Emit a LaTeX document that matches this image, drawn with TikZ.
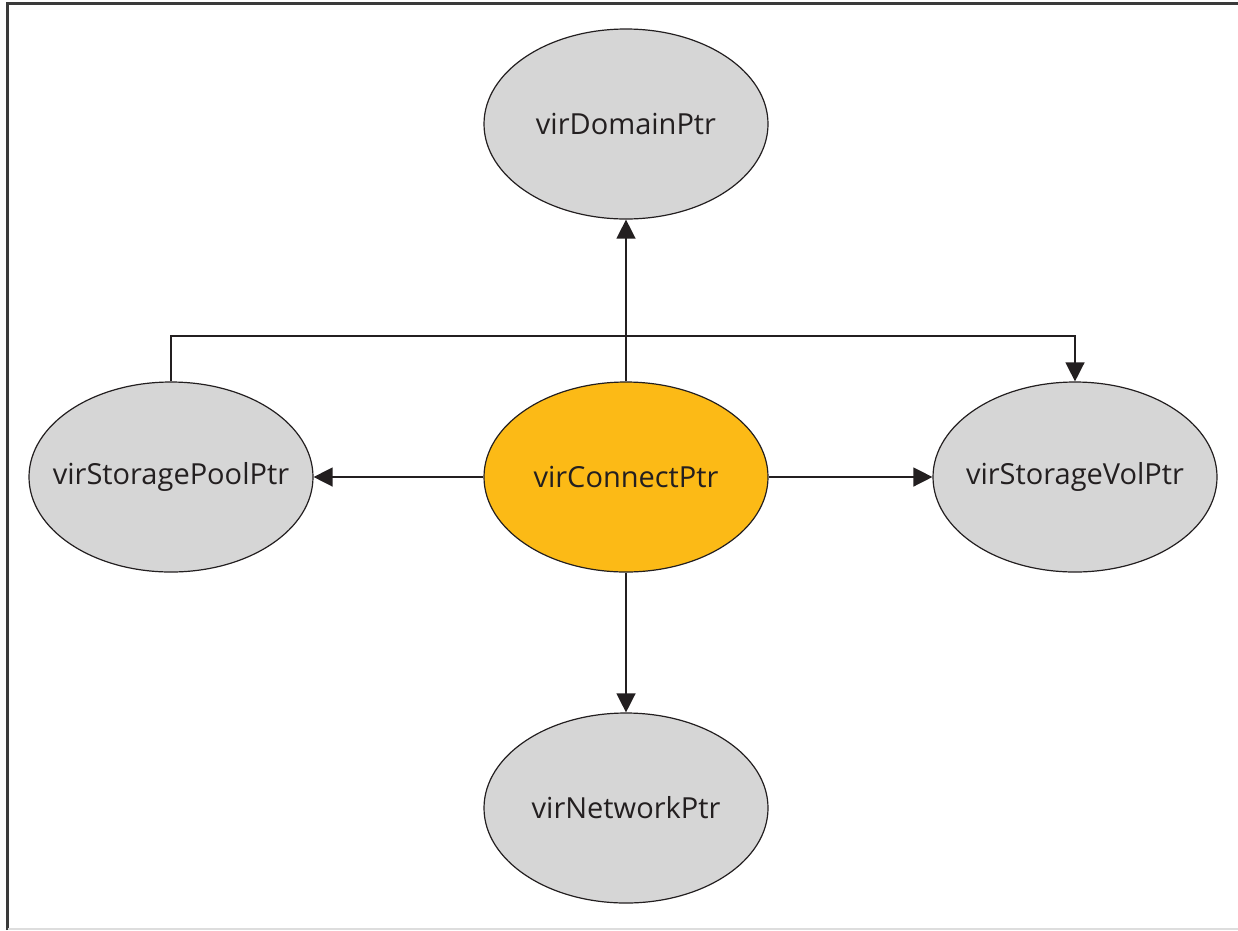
\documentclass[tikz,border=0pt]{standalone}
\usepackage{fontspec}
\setmainfont{Open Sans}
\usetikzlibrary{arrows.meta,shapes.geometric}
\definecolor{nodegray}{HTML}{D6D6D6}
\definecolor{hubyellow}{HTML}{FCBA16}
\definecolor{inkline}{HTML}{231F20}
\definecolor{framedark}{HTML}{3A3A3A}
\definecolor{framelight}{HTML}{DDDDDD}
\tikzset{
  % fixed-size ellipse; the name is set as a centred label so long names do not stretch it
  ptrnode/.style={ellipse, draw=inkline, line width=1.2pt, fill=nodegray,
    minimum width=284pt, minimum height=190pt, inner sep=0pt,
    label={[font=\fontsize{29}{33}\selectfont, text=inkline, inner sep=0pt]center:#1}},
  hubnode/.style={ptrnode={#1}, fill=hubyellow},
  link/.style={draw=inkline, line width=1.4pt},
  arrowlink/.style={link, -{Triangle[length=19pt,width=19pt]}}
}
\begin{document}
\begin{tikzpicture}[x=1pt,y=-1pt]
  \useasboundingbox (0,0) rectangle (1238,930);
  % frame
  \draw[framedark, line width=2.6pt] (7.5,930) -- (7.5,3.3) -- (1238,3.3);
  \draw[framelight, line width=1.5pt] (7.5,929) -- (1238,929);

  % nodes
  \node[hubnode=virConnectPtr]     (connect) at (626,477) {};
  \node[ptrnode=virDomainPtr]      (domain)  at (626,124) {};
  \node[ptrnode=virNetworkPtr]     (network) at (626,808) {};
  \node[ptrnode=virStoragePoolPtr] (pool)    at (171,477) {};
  \node[ptrnode=virStorageVolPtr]  (vol)     at (1075,477) {};

  % pool to volume link over the top
  \coordinate (bendL) at (171,336);
  \coordinate (bendR) at (1075,336);
  \draw[arrowlink] (pool.north) -- (bendL) -- (bendR) -- (vol.north);

  % links from the connection
  \draw[arrowlink] (connect.north) -- (domain.south);
  \draw[arrowlink] (connect.south) -- (network.north);
  \draw[arrowlink] (connect.west) -- (pool.east);
  \draw[arrowlink] (connect.east) -- (vol.west);
\end{tikzpicture}
\end{document}
